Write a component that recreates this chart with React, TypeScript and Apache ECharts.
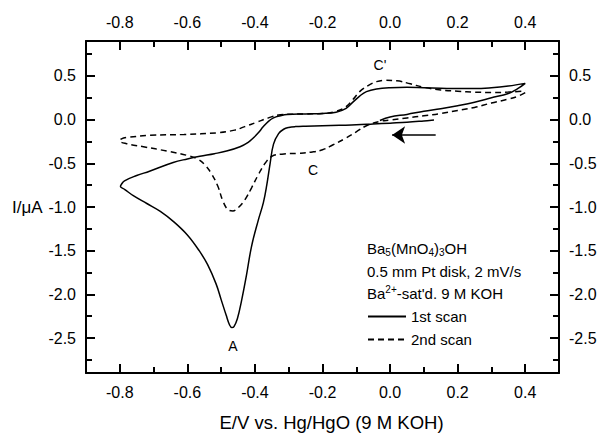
import React, { useEffect, useRef } from "react";
import * as echarts from "echarts";

// ---- data ----
const scan1E = [
  0.13, 0.1, 0.05, 0.0, -0.05, -0.1, -0.15, -0.2, -0.25, -0.28, -0.3, -0.315, -0.33, -0.345, -0.355,
  -0.365, -0.375, -0.39, -0.41, -0.425, -0.44, -0.452, -0.462, -0.468, -0.475, -0.485, -0.5, -0.515,
  -0.54, -0.565, -0.6, -0.64, -0.68, -0.72, -0.76, -0.785, -0.798, -0.795, -0.786, -0.75, -0.712,
  -0.642, -0.6, -0.563, -0.52, -0.484, -0.444, -0.42, -0.405, -0.39, -0.375, -0.36, -0.345, -0.325,
  -0.305, -0.25, -0.2, -0.16, -0.13, -0.11, -0.09, -0.07, -0.04, 0.0, 0.05, 0.1, 0.15, 0.2, 0.25, 0.3,
  0.35, 0.4, 0.38, 0.35, 0.3, 0.25, 0.2, 0.15, 0.1, 0.05, 0.0, -0.03,
];
const scan1I = [
  -0.005, -0.015, -0.03, -0.04, -0.05, -0.06, -0.065, -0.07, -0.075, -0.08, -0.09, -0.11, -0.16, -0.28,
  -0.5, -0.75, -0.95, -1.15, -1.45, -1.78, -2.08, -2.28, -2.37, -2.38, -2.35, -2.24, -2.06, -1.88,
  -1.66, -1.5, -1.32, -1.17, -1.05, -0.96, -0.87, -0.8, -0.765, -0.74, -0.7, -0.64, -0.59, -0.49,
  -0.45, -0.42, -0.39, -0.36, -0.31, -0.26, -0.21, -0.15, -0.08, -0.02, 0.02, 0.045, 0.06, 0.065,
  0.07, 0.085, 0.13, 0.2, 0.27, 0.32, 0.35, 0.365, 0.37, 0.365, 0.36, 0.355, 0.355, 0.365, 0.385, 0.415,
  0.36, 0.3, 0.25, 0.2, 0.16, 0.125, 0.095, 0.06, 0.03, -0.01,
];

const scan2E = [
  0.4, 0.38, 0.35, 0.3, 0.25, 0.2, 0.15, 0.1, 0.05, 0.0, -0.03, -0.07, -0.1, -0.13, -0.17, -0.2, -0.23,
  -0.27, -0.32, -0.35, -0.37, -0.39, -0.41, -0.43, -0.45, -0.465, -0.48, -0.495, -0.51, -0.53, -0.55,
  -0.57, -0.6, -0.66, -0.73, -0.78, -0.8, -0.795, -0.78, -0.71, -0.61, -0.51, -0.46, -0.43, -0.395,
  -0.36, -0.325, -0.25, -0.2, -0.16, -0.13, -0.11, -0.09, -0.065, -0.04, -0.015, 0.02, 0.06, 0.1, 0.15,
  0.2, 0.25, 0.3, 0.35, 0.4,
];
const scan2I = [
  0.31, 0.27, 0.235, 0.19, 0.14, 0.105, 0.07, 0.045, 0.02, -0.005, -0.02, -0.07, -0.14, -0.21, -0.29,
  -0.345, -0.37, -0.385, -0.395, -0.42, -0.5, -0.63, -0.78, -0.92, -1.01, -1.045, -1.03, -0.93, -0.76,
  -0.61, -0.51, -0.45, -0.41, -0.36, -0.31, -0.275, -0.245, -0.22, -0.205, -0.18, -0.17, -0.15, -0.12,
  -0.08, -0.03, 0.02, 0.055, 0.065, 0.07, 0.095, 0.15, 0.23, 0.32, 0.39, 0.435, 0.45, 0.445, 0.41, 0.37,
  0.34, 0.325, 0.315, 0.31, 0.315, 0.33,
];

const seriesNames = ["1st scan", "2nd scan"];

const xMajorTicks = [-0.8, -0.6, -0.4, -0.2, 0, 0.2, 0.4];
const xMinorTicks = [-0.7, -0.5, -0.3, -0.1, 0.1, 0.3];
const yMajorTicks = [0.5, 0, -0.5, -1, -1.5, -2, -2.5];
const yMinorTicks = [0.75, 0.25, -0.25, -0.75, -1.25, -1.75, -2.25, -2.75];
const xRange = [-0.9, 0.5];
const yRange = [-2.9, 0.9];

const peakLabels = ["C'", "C", "A"];
const peakE = [-0.03, -0.228, -0.465];
const peakI = [0.62, -0.58, -2.59];

const arrowE = [0.135, 0.006];
const arrowI = [-0.176, -0.176];

const infoLines = [
  "{n|Ba}{b|5}{n|(MnO}{b|4}{n|)}{b|3}{n|OH}",
  "{n|0.5 mm Pt disk, 2 mV/s}",
  "{n|Ba}{p|2+}{n|-sat'd. 9 M KOH}",
];

const FONT = "'Liberation Sans', Arial, Helvetica, sans-serif";

export default function App() {
  const ref = useRef<HTMLDivElement>(null);

  useEffect(() => {
    if (!ref.current) return;
    const chart = echarts.init(ref.current, undefined, { renderer: "svg" });

    const fmt = (v: number) => (Math.abs(v) < 1e-9 ? "0.0" : v.toFixed(1));

    const mkX = (position: string, major: boolean, withName: boolean) => ({
      type: "value",
      position,
      min: xRange[0],
      max: xRange[1],
      axisLine: { show: major, onZero: false, lineStyle: { color: "#000", width: 2 } },
      axisTick: {
        show: true,
        inside: true,
        length: major ? 9 : 6,
        lineStyle: { color: "#000", width: 2 },
        customValues: major ? xMajorTicks : xMinorTicks,
      },
      axisLabel: {
        show: major,
        margin: 11,
        color: "#000",
        fontSize: 16,
        fontFamily: FONT,
        customValues: xMajorTicks,
        formatter: fmt,
      },
      splitLine: { show: false },
      name: withName ? "E/V vs. Hg/HgO (9 M KOH)" : "",
      nameLocation: "middle",
      nameGap: 40,
      nameTextStyle: { color: "#000", fontSize: 18.5, fontFamily: FONT, padding: [0, 0, 0, 18] },
    });

    const mkY = (position: string, major: boolean, withName: boolean) => ({
      type: "value",
      position,
      min: yRange[0],
      max: yRange[1],
      axisLine: { show: major, onZero: false, lineStyle: { color: "#000", width: 2 } },
      axisTick: {
        show: true,
        inside: true,
        length: major ? 9 : 6,
        lineStyle: { color: "#000", width: 2 },
        customValues: major ? yMajorTicks : yMinorTicks,
      },
      axisLabel: {
        show: major,
        margin: 10,
        color: "#000",
        fontSize: 16,
        fontFamily: FONT,
        customValues: yMajorTicks,
        formatter: fmt,
      },
      splitLine: { show: false },
      name: withName ? "I/\u03bcA" : "",
      nameLocation: "middle",
      nameRotate: 0,
      nameGap: 43,
      nameTextStyle: { color: "#000", fontSize: 17, fontFamily: FONT, padding: [4, 0, 0, 0] },
    });

    const s1 = scan1E.map((e, i) => [e, scan1I[i]]);
    const s2 = scan2E.map((e, i) => [e, scan2I[i]]);

    chart.setOption({
      animation: false,
      backgroundColor: "#fff",
      grid: { left: 86, right: 42, top: 41, bottom: 58, containLabel: false },
      xAxis: [mkX("bottom", true, true), mkX("bottom", false, false), mkX("top", true, false), mkX("top", false, false)],
      yAxis: [mkY("left", true, true), mkY("left", false, false), mkY("right", true, false), mkY("right", false, false)],
      legend: {
        data: seriesNames,
        orient: "vertical",
        left: 367,
        top: 309,
        padding: 0,
        itemWidth: 38,
        itemHeight: 14,
        itemGap: 8,
        itemStyle: { opacity: 0, borderWidth: 0 },
        textStyle: { color: "#000", fontSize: 15, fontFamily: FONT },
      },
      graphic: infoLines.map((t, i) => ({
        type: "text",
        x: 367,
        y: 248.5 + i * 22.5,
        style: {
          text: t,
          verticalAlign: "middle",
          rich: {
            n: { fontSize: 15, fontFamily: FONT, fill: "#000", color: "#000", lineHeight: 18 },
            b: { fontSize: 10, fontFamily: FONT, color: "#000", lineHeight: 10, verticalAlign: "bottom" },
            p: { fontSize: 10, fontFamily: FONT, color: "#000", lineHeight: 10, verticalAlign: "top" },
          },
        },
      })),
      series: [
        {
          name: seriesNames[0],
          type: "line",
          data: s1,
          showSymbol: false,
          symbol: "none",
          smooth: 0.4,
          lineStyle: { color: "#000", width: 1.5, type: "solid" },
          itemStyle: { color: "#000" },
        },
        {
          name: seriesNames[1],
          type: "line",
          data: s2,
          showSymbol: false,
          symbol: "none",
          smooth: 0.4,
          lineStyle: { color: "#000", width: 1.5, type: [6, 4] },
          itemStyle: { color: "#000" },
        },
        {
          type: "scatter",
          symbolSize: 0,
          silent: true,
          itemStyle: { opacity: 1, color: "#000" },
          data: peakLabels.map((n, i) => ({ name: n, value: [peakE[i], peakI[i]] })),
          label: {
            show: true,
            position: "inside",
            formatter: "{b}",
            color: "#000",
            opacity: 1,
            fontSize: 14,
            fontFamily: FONT,
          },
        },
        {
          type: "lines",
          coordinateSystem: "cartesian2d",
          silent: true,
          symbol: ["none", "arrow"],
          symbolSize: [8, 13],
          lineStyle: { color: "#000", width: 1.5, opacity: 1 },
          data: [{ coords: arrowE.map((e, i) => [e, arrowI[i]]) }],
        },
      ],
    });

    return () => chart.dispose();
  }, []);

  return (
    <div
      ref={ref}
      style={{ position: "absolute", left: 0, top: 0, width: 601, height: 437, background: "#fff" }}
    />
  );
}
